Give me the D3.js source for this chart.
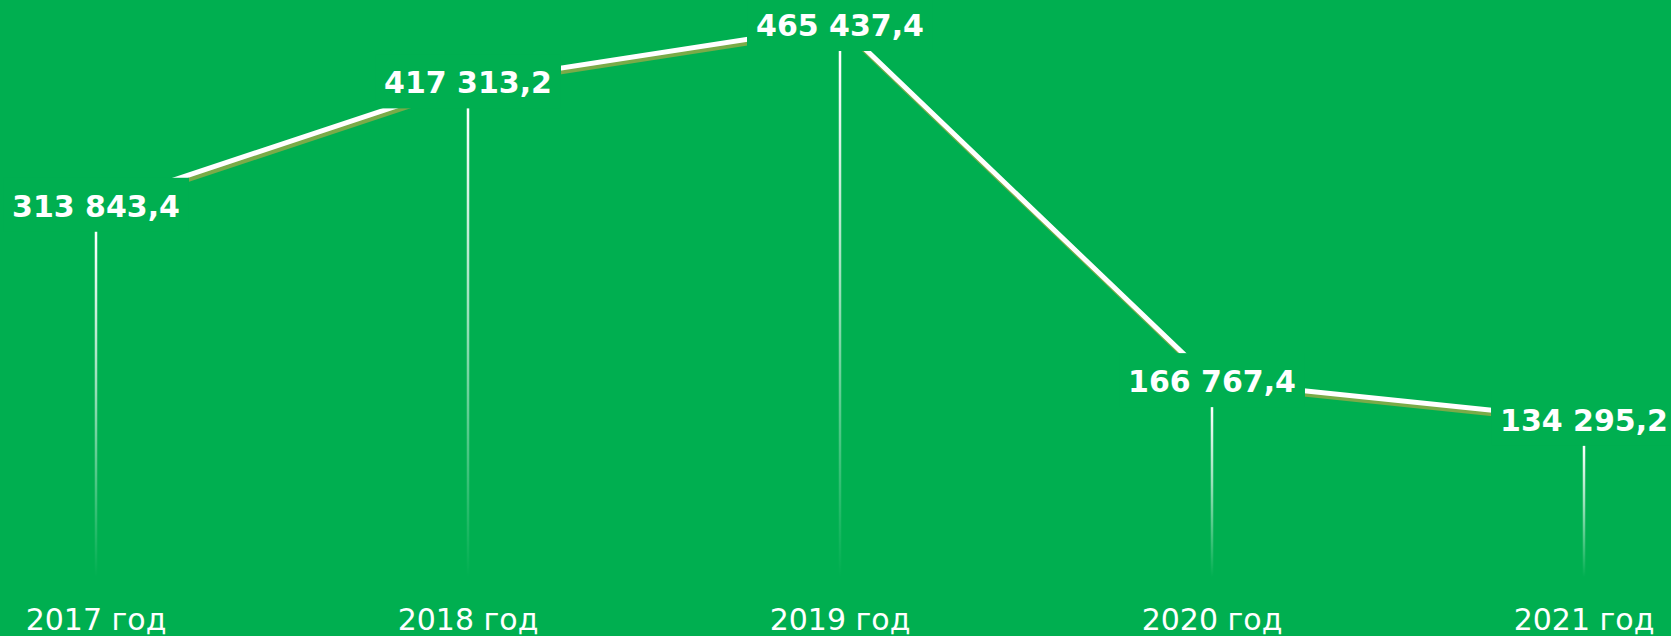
<!DOCTYPE html>
<html>
<head>
<meta charset="utf-8">
<script src="https://cdn.jsdelivr.net/npm/d3@7"></script>
<style>
    html, body { margin: 0; padding: 0; background: #00af50; }
    svg { display: block; }
</style>
</head>
<body>
<div id="chart"></div>
<script>
// Data
const years = ['2017', '2018', '2019', '2020', '2021'];
const yearLabels = ['2017 год', '2018 год', '2019 год', '2020 год', '2021 год'];
const values = [313843.4, 417313.2, 465437.4, 166767.4, 134295.2];
const valueLabels = ['313 843,4', '417 313,2', '465 437,4', '166 767,4', '134 295,2'];

const width = 1671;
const height = 636;
const bg = '#00af50';

const svg = d3.select('#chart').append('svg')
    .attr('width', width)
    .attr('height', height);

svg.append('rect')
    .attr('width', width)
    .attr('height', height)
    .attr('fill', bg);

const x = d3.scalePoint()
    .domain(years)
    .range([96, 1584]);

const y = d3.scaleLinear()
    .domain([0, d3.max(values)])
    .range([580, 25]);

const points = years.map((yr, i) => ({ year: yr, value: values[i], label: valueLabels[i], tick: yearLabels[i] }));

// Drop-line gradient: white fading out toward the bottom
const defs = svg.append('defs');
const grad = defs.append('linearGradient')
    .attr('id', 'drop-fade')
    .attr('x1', 0).attr('y1', 0)
    .attr('x2', 0).attr('y2', 1);
grad.append('stop').attr('offset', 0).attr('stop-color', '#fff').attr('stop-opacity', 1);
grad.append('stop').attr('offset', 0.45).attr('stop-color', '#fff').attr('stop-opacity', 0.6);
grad.append('stop').attr('offset', 1).attr('stop-color', '#fff').attr('stop-opacity', 0);

// Series line with olive drop shadow
const line = d3.line()
    .x(d => x(d.year))
    .y(d => y(d.value));

svg.append('path')
    .datum(points)
    .attr('d', line)
    .attr('transform', 'translate(2,3.5)')
    .attr('fill', 'none')
    .attr('stroke', '#7aab48')
    .attr('stroke-width', 5);

svg.append('path')
    .datum(points)
    .attr('d', line)
    .attr('fill', 'none')
    .attr('stroke', '#fff')
    .attr('stroke-width', 5);

// Value labels sitting on green boxes that hide the line
const labels = svg.selectAll('.value-label')
    .data(points)
    .enter()
    .append('g')
    .attr('class', 'value-label')
    .attr('transform', d => `translate(${x(d.year)},${y(d.value)})`);

labels.append('rect')
    .attr('fill', bg);

labels.append('text')
    .attr('text-anchor', 'middle')
    .attr('y', 11)
    .style('font-family', '"Comic Sans MS", "DejaVu Sans", sans-serif')
    .style('font-weight', 'bold')
    .style('font-size', '30px')
    .style('fill', '#fff')
    .text(d => d.label);

labels.each(function() {
    const g = d3.select(this);
    const bb = g.select('text').node().getBBox();
    g.select('rect')
        .attr('x', bb.x - 9)
        .attr('y', -28)
        .attr('width', bb.width + 18)
        .attr('height', 54);
});

// Drop lines from label to the baseline
svg.selectAll('.drop-line')
    .data(points)
    .enter()
    .append('rect')
    .attr('class', 'drop-line')
    .attr('x', d => x(d.year) - 1.25)
    .attr('y', d => y(d.value) + 26)
    .attr('width', 2.5)
    .attr('height', d => y(0) - 3 - (y(d.value) + 26))
    .attr('fill', 'url(#drop-fade)');

// Category labels along the bottom
svg.selectAll('.year-label')
    .data(points)
    .enter()
    .append('text')
    .attr('class', 'year-label')
    .attr('x', d => x(d.year))
    .attr('y', 630)
    .attr('text-anchor', 'middle')
    .style('font-family', '"Comic Sans MS", "DejaVu Sans", sans-serif')
    .style('font-size', '30px')
    .style('fill', '#fff')
    .text(d => d.tick);
</script>
</body>
</html>
